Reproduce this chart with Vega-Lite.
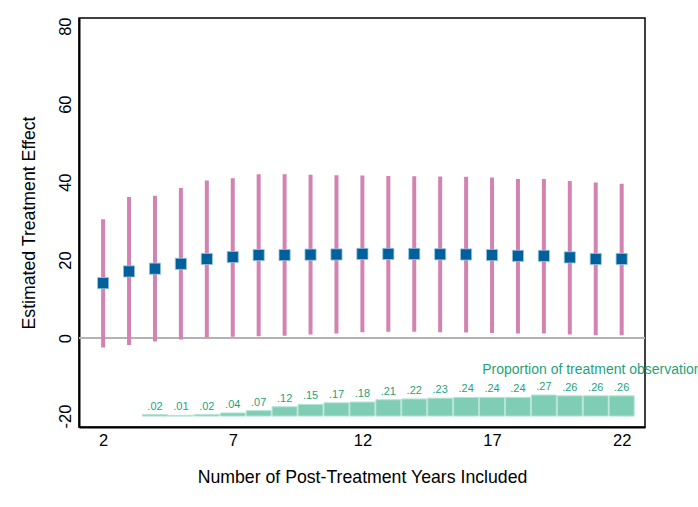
{
  "$schema": "https://vega.github.io/schema/vega-lite/v6.json",
  "autosize": {"type": "none"},
  "padding": {"left": 79, "top": 18, "right": 53, "bottom": 80},
  "width": 566,
  "height": 409,
  "background": "white",
  "config": {
    "font": "Liberation Sans",
    "view": {"stroke": "#000000", "strokeWidth": 1.5},
    "axis": {"grid": false, "ticks": false, "domainColor": "#000000", "domainWidth": 2, "labelColor": "#000000", "titleColor": "#000000", "labelFont": "Liberation Sans", "titleFont": "Liberation Sans", "titleFontWeight": "normal"}
  },
  "datasets": {
    "est": [
      {"years": 2, "est": 14.1, "lo": -2.4, "hi": 30.5},
      {"years": 3, "est": 17.1, "lo": -1.8, "hi": 36.2},
      {"years": 4, "est": 17.8, "lo": -0.9, "hi": 36.5},
      {"years": 5, "est": 19.05, "lo": -0.35, "hi": 38.5},
      {"years": 6, "est": 20.3, "lo": 0.25, "hi": 40.4},
      {"years": 7, "est": 20.8, "lo": 0.33, "hi": 41.0},
      {"years": 8, "est": 21.3, "lo": 0.5, "hi": 42.0},
      {"years": 9, "est": 21.3, "lo": 0.6, "hi": 42.05},
      {"years": 10, "est": 21.4, "lo": 0.9, "hi": 41.9},
      {"years": 11, "est": 21.45, "lo": 1.2, "hi": 41.8},
      {"years": 12, "est": 21.6, "lo": 1.5, "hi": 41.7},
      {"years": 13, "est": 21.6, "lo": 1.6, "hi": 41.6},
      {"years": 14, "est": 21.6, "lo": 1.6, "hi": 41.5},
      {"years": 15, "est": 21.5, "lo": 1.5, "hi": 41.45},
      {"years": 16, "est": 21.45, "lo": 1.45, "hi": 41.4},
      {"years": 17, "est": 21.3, "lo": 1.3, "hi": 41.2},
      {"years": 18, "est": 21.1, "lo": 1.2, "hi": 40.8},
      {"years": 19, "est": 21.1, "lo": 1.2, "hi": 40.8},
      {"years": 20, "est": 20.7, "lo": 0.9, "hi": 40.3},
      {"years": 21, "est": 20.3, "lo": 0.7, "hi": 39.9},
      {"years": 22, "est": 20.3, "lo": 0.75, "hi": 39.6}
    ],
    "prop": [
      {"years": 4, "prop": 0.02, "label": ".02"},
      {"years": 5, "prop": 0.01, "label": ".01"},
      {"years": 6, "prop": 0.02, "label": ".02"},
      {"years": 7, "prop": 0.04, "label": ".04"},
      {"years": 8, "prop": 0.07, "label": ".07"},
      {"years": 9, "prop": 0.12, "label": ".12"},
      {"years": 10, "prop": 0.15, "label": ".15"},
      {"years": 11, "prop": 0.17, "label": ".17"},
      {"years": 12, "prop": 0.18, "label": ".18"},
      {"years": 13, "prop": 0.21, "label": ".21"},
      {"years": 14, "prop": 0.22, "label": ".22"},
      {"years": 15, "prop": 0.23, "label": ".23"},
      {"years": 16, "prop": 0.24, "label": ".24"},
      {"years": 17, "prop": 0.24, "label": ".24"},
      {"years": 18, "prop": 0.24, "label": ".24"},
      {"years": 19, "prop": 0.27, "label": ".27"},
      {"years": 20, "prop": 0.26, "label": ".26"},
      {"years": 21, "prop": 0.26, "label": ".26"},
      {"years": 22, "prop": 0.26, "label": ".26"}
    ],
    "note": [
      {"years": 16.62, "y": -8.2, "label": "Proportion of treatment observations"}
    ]
  },
  "resolve": {"scale": {"y": "independent"}},
  "layer": [
    {
      "data": {"name": "est"},
      "mark": {"type": "rule", "color": "#b3b3b3", "strokeWidth": 1.5},
      "encoding": {
        "y": {"datum": 0, "type": "quantitative", "scale": {"domain": [-22.8, 82.1], "nice": false, "zero": false, "padding": 0},
          "axis": {"values": [-20, 0, 20, 40, 60, 80], "labelExpr": "datum.value < 0 ? '-' + abs(datum.value) : '' + datum.value", "title": "Estimated Treatment Effect", "titleFontSize": 17.7, "titlePadding": 19, "labelFontSize": 16.5, "labelAngle": -90, "labelAlign": "center", "labelBaseline": "bottom", "labelPadding": 6}}
      }
    },
    {
      "data": {"name": "est"},
      "mark": {"type": "rule", "color": "#d383b1", "strokeWidth": 4},
      "encoding": {
        "x": {"field": "years", "type": "quantitative", "scale": {"domain": [1.07, 22.9], "nice": false, "zero": false, "padding": 0},
          "axis": {"values": [2, 7, 12, 17, 22], "title": "Number of Post-Treatment Years Included", "titleFontSize": 17.7, "titlePadding": 20, "labelFontSize": 16.5, "labelPadding": 5}},
        "y": {"field": "lo", "type": "quantitative", "scale": {"domain": [-22.8, 82.1], "nice": false, "zero": false, "padding": 0}, "axis": null},
        "y2": {"field": "hi"}
      }
    },
    {
      "data": {"name": "est"},
      "mark": {"type": "point", "shape": "square", "filled": true, "size": 125, "color": "#00609c", "opacity": 1, "stroke": "#9cc6e0", "strokeWidth": 0.8},
      "encoding": {
        "x": {"field": "years", "type": "quantitative", "scale": {"domain": [1.07, 22.9], "nice": false, "zero": false, "padding": 0}},
        "y": {"field": "est", "type": "quantitative", "scale": {"domain": [-22.8, 82.1], "nice": false, "zero": false, "padding": 0}, "axis": null}
      }
    },
    {
      "data": {"name": "prop"},
      "mark": {"type": "bar", "size": 25, "fill": "#80cdb5", "stroke": "#b8e4d6", "strokeWidth": 1},
      "encoding": {
        "x": {"field": "years", "type": "quantitative", "scale": {"domain": [1.07, 22.9], "nice": false, "zero": false, "padding": 0}},
        "y": {"field": "prop", "type": "quantitative", "scale": {"domain": [-0.14, 5.105], "nice": false, "zero": false, "padding": 0}, "axis": null},
        "y2": {"datum": 0}
      }
    },
    {
      "data": {"name": "prop"},
      "mark": {"type": "text", "color": "#1fa27c", "fontSize": 11, "baseline": "bottom", "dy": -3},
      "encoding": {
        "x": {"field": "years", "type": "quantitative", "scale": {"domain": [1.07, 22.9], "nice": false, "zero": false, "padding": 0}},
        "y": {"field": "prop", "type": "quantitative", "scale": {"domain": [-0.14, 5.105], "nice": false, "zero": false, "padding": 0}, "axis": null},
        "text": {"field": "label"}
      }
    },
    {
      "data": {"name": "note"},
      "mark": {"type": "text", "color": "#1fa27c", "fontSize": 14, "align": "left", "baseline": "middle"},
      "encoding": {
        "x": {"field": "years", "type": "quantitative", "scale": {"domain": [1.07, 22.9], "nice": false, "zero": false, "padding": 0}},
        "y": {"field": "y", "type": "quantitative", "scale": {"domain": [-22.8, 82.1], "nice": false, "zero": false, "padding": 0}, "axis": null},
        "text": {"field": "label"}
      }
    }
  ]
}
